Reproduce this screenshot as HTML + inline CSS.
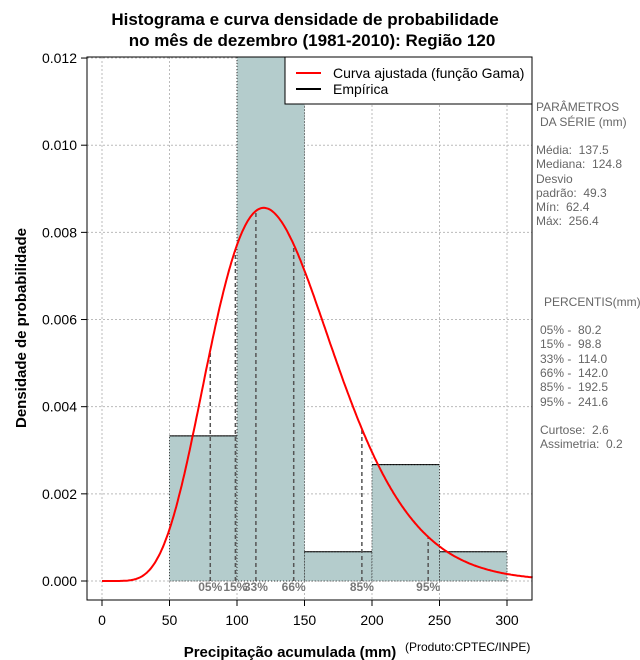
<!DOCTYPE html>
<html><head><meta charset="utf-8"><style>
body{margin:0;background:#fff;}
svg{display:block;font-family:"Liberation Sans",sans-serif;}
text{white-space:pre;}
</style></head><body>
<svg id="chart" width="640" height="660">
<g id="grid"></g>
<g id="bars"></g>
<g id="pct"></g>
<g id="curve"></g>
<rect x="87" y="57" width="445" height="543" fill="none" stroke="#000"/>
<g id="axes"></g>
<text x="305" y="25" text-anchor="middle" font-size="17" font-weight="bold">Histograma e curva densidade de probabilidade</text>
<text x="312" y="46" text-anchor="middle" font-size="17" font-weight="bold">no mês de dezembro (1981-2010): Região 120</text>
<text x="290" y="657" text-anchor="middle" font-size="15" font-weight="bold">Precipitação acumulada (mm)</text>
<text x="405" y="651" font-size="12">(Produto:CPTEC/INPE)</text>
<text transform="translate(26,328) rotate(-90)" text-anchor="middle" font-size="15" font-weight="bold">Densidade de probabilidade</text>
<g>
<rect x="285" y="57" width="247" height="47" fill="#fff" stroke="#000"/>
<line x1="296" y1="73" x2="321" y2="73" stroke="red" stroke-width="2"/>
<text x="333" y="78" font-size="14">Curva ajustada (função Gama)</text>
<line x1="296" y1="89" x2="321" y2="89" stroke="#000" stroke-width="2"/>
<text x="333" y="94" font-size="14">Empírica</text>
</g>
<g font-size="12" fill="#666">
<text x="536" y="111">PARÂMETROS</text>
<text x="540" y="126">DA SÉRIE (mm)</text>
<text x="536" y="154">Média:  137.5</text>
<text x="536" y="168">Mediana:  124.8</text>
<text x="536" y="183">Desvio</text>
<text x="536" y="197">padrão:  49.3</text>
<text x="536" y="211">Mín:  62.4</text>
<text x="536" y="225">Máx:  256.4</text>
<text x="544" y="306">PERCENTIS(mm)</text>
<text x="540" y="334">05% -  80.2</text>
<text x="540" y="348">15% -  98.8</text>
<text x="540" y="363">33% -  114.0</text>
<text x="540" y="377">66% -  142.0</text>
<text x="540" y="391">85% -  192.5</text>
<text x="540" y="406">95% -  241.6</text>
<text x="540" y="434">Curtose:  2.6</text>
<text x="540" y="448">Assimetria:  0.2</text>
</g>
</svg>
<script>
const binEdges=[50,100,150,200,250,300];
const binDensity=[0.00333,0.01267,0.00067,0.00267,0.00067];
const xTicks=[0,50,100,150,200,250,300];
const yTicks=[0,0.002,0.004,0.006,0.008,0.010,0.012];
const yTickLabels=["0.000","0.002","0.004","0.006","0.008","0.010","0.012"];
const pctValues=[80.2,98.8,114.0,142.0,192.5,241.6];
const pctLabels=["05%","15%","33%","66%","85%","95%"];
const seriesMean=[137.5];
const seriesSd=[49.3];
const NS="http://www.w3.org/2000/svg";
const X=v=>102+v*1.35;
const Y=v=>581-v*43580;
const top0=57,bot0=600,left0=87,right0=532;
function mk(t,a,p){const e=document.createElementNS(NS,t);for(const k in a)e.setAttribute(k,a[k]);p.appendChild(e);return e;}
const k=Math.pow(seriesMean[0]/seriesSd[0],2),th=seriesSd[0]*seriesSd[0]/seriesMean[0];
function lgamma(z){const g=7,c=[0.99999999999980993,676.5203681218851,-1259.1392167224028,771.32342877765313,-176.61502916214059,12.507343278686905,-0.13857109526572012,9.9843695780195716e-6,1.5056327351493116e-7];z-=1;let x=c[0];for(let i=1;i<g+2;i++)x+=c[i]/(z+i);const t=z+g+0.5;return 0.5*Math.log(2*Math.PI)+(z+0.5)*Math.log(t)-t+Math.log(x);}
const lg=lgamma(k);
const dens=x=>x<=0?0:Math.exp((k-1)*Math.log(x)-x/th-lg-k*Math.log(th));
const grid=document.getElementById('grid');
xTicks.forEach(v=>{const l=mk('line',{x1:X(v),x2:X(v),y1:top0,y2:bot0,stroke:'#bbb','stroke-dasharray':'2,2'},grid);

});
yTicks.forEach(v=>{const l=mk('line',{x1:left0,x2:right0,y1:Y(v),y2:Y(v),stroke:'#bbb','stroke-dasharray':'2,2'},grid);

});
const bars=document.getElementById('bars');
binDensity.forEach((d,i)=>{const x0=X(binEdges[i]),x1=X(binEdges[i+1]);const yt=Math.max(Y(d),top0);
const r=mk('rect',{x:x0,y:yt,width:x1-x0,height:Y(0)-yt,fill:'#b4cccc',stroke:'#333','stroke-dasharray':'1,2'},bars);


if(Y(d)>top0){const l=mk('line',{x1:x0,x2:x1,y1:yt,y2:yt,stroke:'#000'},bars);

}});
const pg=document.getElementById('pct');
pctValues.forEach((v,i)=>{const l=mk('line',{x1:X(v),x2:X(v),y1:Y(0),y2:Y(dens(v)),stroke:'#555','stroke-dasharray':'4,3','stroke-width':1.5},pg);


const t=mk('text',{x:X(v),y:591,'text-anchor':'middle','font-size':12,'font-weight':'bold',fill:'#777'},pg);t.textContent=pctLabels[i];

});
let d='';for(let x=0;x<=319;x+=1){d+=(x?'L':'M')+X(x).toFixed(1)+','+Y(dens(x)).toFixed(1);}
const p=mk('path',{d:d,fill:'none',stroke:'red','stroke-width':2},document.getElementById('curve'));


const ax=document.getElementById('axes');
xTicks.forEach(v=>{mk('line',{x1:X(v),x2:X(v),y1:bot0,y2:bot0+6,stroke:'#000'},ax);
const t=mk('text',{x:X(v),y:bot0+25,'text-anchor':'middle','font-size':14},ax);t.textContent=v;

});
yTicks.forEach((v,i)=>{mk('line',{x1:left0-6,x2:left0,y1:Y(v),y2:Y(v),stroke:'#000'},ax);
const t=mk('text',{x:left0-10,y:Y(v)+5,'text-anchor':'end','font-size':14},ax);t.textContent=yTickLabels[i];

});
</script>
</body></html>
